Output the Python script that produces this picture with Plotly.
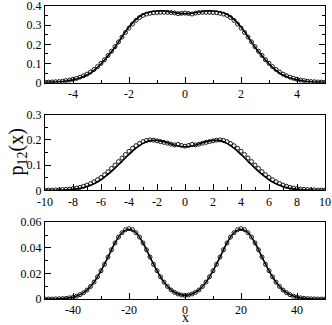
import plotly.graph_objects as go

# ---------------- data ----------------
# panel 1 (x in [-5, 5])
x1_line = [-5 + 0.25 * i for i in range(41)]
p1_line = [0.002, 0.003, 0.005, 0.009, 0.015, 0.025, 0.040, 0.065, 0.098, 0.140,
           0.185, 0.240, 0.290, 0.330, 0.357, 0.369, 0.374, 0.374, 0.369, 0.363,
           0.360,
           0.363, 0.369, 0.374, 0.374, 0.369, 0.357, 0.330, 0.290, 0.240, 0.185,
           0.140, 0.098, 0.065, 0.040, 0.025, 0.015, 0.009, 0.005, 0.003, 0.002]
x1_pts = [-5 + 0.125 * i for i in range(81)]
p1_pts = [0.003, 0.003, 0.004, 0.005, 0.006, 0.008, 0.011, 0.014, 0.018, 0.023,
          0.029, 0.036, 0.045, 0.056, 0.069, 0.084, 0.101, 0.120, 0.142, 0.164,
          0.188, 0.213, 0.238, 0.262, 0.285, 0.306, 0.325, 0.340, 0.351, 0.358,
          0.362, 0.365, 0.366, 0.367, 0.367, 0.367, 0.366, 0.364, 0.360, 0.362,
          0.363,
          0.361, 0.358, 0.363, 0.366, 0.367, 0.367, 0.367, 0.366, 0.365, 0.362,
          0.358, 0.351, 0.340, 0.325, 0.306, 0.285, 0.262, 0.238, 0.213, 0.188,
          0.164, 0.142, 0.120, 0.101, 0.084, 0.069, 0.056, 0.045, 0.036, 0.029,
          0.023, 0.018, 0.014, 0.011, 0.008, 0.006, 0.005, 0.004, 0.003, 0.003]

# panel 2 (x in [-10, 10])
x2_line = [-10 + 0.5 * i for i in range(41)]
p2_line = [0.000, 0.0005, 0.001, 0.002, 0.004, 0.008, 0.015, 0.026, 0.042, 0.063,
           0.088, 0.115, 0.142, 0.167, 0.186, 0.197, 0.198, 0.193, 0.184, 0.176,
           0.173,
           0.176, 0.184, 0.193, 0.198, 0.197, 0.186, 0.167, 0.142, 0.115, 0.088,
           0.063, 0.042, 0.026, 0.015, 0.008, 0.004, 0.002, 0.001, 0.0005, 0.000]
x2_pts = [-10 + 0.25 * i for i in range(81)]
p2_pts = [0.001, 0.001, 0.001, 0.002, 0.002, 0.003, 0.004, 0.005, 0.007, 0.009,
          0.012, 0.016, 0.021, 0.027, 0.034, 0.042, 0.051, 0.062, 0.074, 0.087,
          0.100, 0.114, 0.128, 0.142, 0.155, 0.167, 0.177, 0.186, 0.193, 0.198,
          0.200, 0.199, 0.196, 0.193, 0.190, 0.187, 0.183, 0.180, 0.182, 0.178,
          0.175,
          0.178, 0.182, 0.180, 0.183, 0.187, 0.190, 0.193, 0.196, 0.199, 0.200,
          0.198, 0.193, 0.186, 0.177, 0.167, 0.155, 0.142, 0.128, 0.114, 0.100,
          0.087, 0.074, 0.062, 0.051, 0.042, 0.034, 0.027, 0.021, 0.016, 0.012,
          0.009, 0.007, 0.005, 0.004, 0.003, 0.002, 0.002, 0.001, 0.001, 0.001]

# panel 3 (x in [-50, 50])
x3_line = [-50 + 2.5 * i for i in range(41)]
p3_line = [0.0000, 0.0000, 0.0002, 0.0005, 0.0014, 0.0034, 0.0070, 0.0132, 0.0221, 0.0328,
           0.0438, 0.0518, 0.0545, 0.0518, 0.0438, 0.0328, 0.0221, 0.0132, 0.0071, 0.0039,
           0.0028,
           0.0039, 0.0071, 0.0132, 0.0221, 0.0328, 0.0438, 0.0518, 0.0545, 0.0518, 0.0438,
           0.0328, 0.0221, 0.0132, 0.0070, 0.0034, 0.0014, 0.0005, 0.0002, 0.0000, 0.0000]
x3_pts = [-50 + 1.25 * i for i in range(81)]
p3_pts = [0.0000, 0.0000, 0.0000, 0.0001, 0.0002, 0.0003, 0.0005, 0.0009, 0.0014, 0.0022,
          0.0034, 0.0049, 0.0070, 0.0098, 0.0132, 0.0173, 0.0221, 0.0271, 0.0328, 0.0385,
          0.0438, 0.0484, 0.0518, 0.0542, 0.0550, 0.0542, 0.0518, 0.0484, 0.0438, 0.0385,
          0.0328, 0.0271, 0.0221, 0.0173, 0.0132, 0.0098, 0.0071, 0.0052, 0.0039, 0.0031,
          0.0028,
          0.0031, 0.0039, 0.0052, 0.0071, 0.0098, 0.0132, 0.0173, 0.0221, 0.0271, 0.0328,
          0.0385, 0.0438, 0.0484, 0.0518, 0.0542, 0.0550, 0.0542, 0.0518, 0.0484, 0.0438,
          0.0385, 0.0328, 0.0271, 0.0221, 0.0173, 0.0132, 0.0098, 0.0070, 0.0049, 0.0034,
          0.0022, 0.0014, 0.0009, 0.0005, 0.0003, 0.0002, 0.0001, 0.0000, 0.0000, 0.0000]

x1_ticks = [-4, -2, 0, 2, 4]
x1_labels = ["-4", "-2", "0", "2", "4"]
x2_ticks = [-10, -8, -6, -4, -2, 0, 2, 4, 6, 8, 10]
x2_labels = ["-10", "-8", "-6", "-4", "-2", "0", "2", "4", "6", "8", "10"]
x3_ticks = [-40, -20, 0, 20, 40]
x3_labels = ["-40", "-20", "0", "20", "40"]
y1_ticks = [0, 0.1, 0.2, 0.3, 0.4]
y1_labels = ["0", "0.1", "0.2", "0.3", "0.4"]
y2_ticks = [0, 0.1, 0.2, 0.3]
y2_labels = ["0", "0.1", "0.2", "0.3"]
y3_ticks = [0, 0.02, 0.04, 0.06]
y3_labels = ["0", "0.02", "0.04", "0.06"]

# ---------------- figure ----------------
FONT = "Liberation Serif"
TICKSIZE = 12
fig = go.Figure()

panels = [
    (x1_line, p1_line, x1_pts, p1_pts, "x", "y"),
    (x2_line, p2_line, x2_pts, p2_pts, "x2", "y2"),
    (x3_line, p3_line, x3_pts, p3_pts, "x3", "y3"),
]
for xl, yl, xp, yp, xa, ya in panels:
    fig.add_trace(go.Scatter(x=xl, y=yl, mode="lines", xaxis=xa, yaxis=ya,
                             line=dict(color="black", width=1.6, shape="spline"),
                             showlegend=False, hoverinfo="skip"))
    fig.add_trace(go.Scatter(x=xp, y=yp, mode="markers", xaxis=xa, yaxis=ya,
                             marker=dict(symbol="circle-open", size=4, color="black",
                                         line=dict(width=0.9, color="black")),
                             showlegend=False, hoverinfo="skip"))

H = 294.0
dom3 = [0, 77 / H]
dom2 = [109 / H, 185 / H]
dom1 = [217 / H, 1]


def xax(rng, tv, tt, dmin, anchor):
    return dict(range=rng, tickvals=tv, ticktext=tt, ticks="inside", ticklen=6,
                tickwidth=1, tickcolor="black", showline=True, linecolor="black",
                linewidth=1, mirror=True, showgrid=False, zeroline=False,
                anchor=anchor, domain=[0, 1], ticklabeloverflow="allow",
                automargin=False,
                tickfont=dict(family=FONT, size=TICKSIZE, color="black"),
                minor=dict(dtick=dmin, tick0=0, ticks="inside", ticklen=3,
                           tickcolor="black", showgrid=False))


def yax(rng, tv, tt, dmin, anchor, dom, mirror):
    return dict(range=rng, tickvals=tv, ticktext=tt, ticks="inside", ticklen=6,
                tickwidth=1, tickcolor="black", showline=True, linecolor="black",
                linewidth=1, mirror=mirror, showgrid=False, zeroline=False,
                anchor=anchor, domain=dom, ticklabeloverflow="allow",
                automargin=False,
                tickfont=dict(family=FONT, size=TICKSIZE, color="black"),
                minor=dict(dtick=dmin, tick0=0, ticks="inside", ticklen=3,
                           tickcolor="black", showgrid=False))


fig.update_layout(
    width=332, height=325,
    margin=dict(l=45, r=7, t=6, b=26),
    paper_bgcolor="white", plot_bgcolor="white",
    xaxis=xax([-5, 5], x1_ticks, x1_labels, 1, "y"),
    xaxis2=xax([-10, 10], x2_ticks, x2_labels, 1, "y2"),
    xaxis3=xax([-50, 50], x3_ticks, x3_labels, 10, "y3"),
    yaxis=yax([0, 0.4], y1_ticks, y1_labels, 0.05, "x", dom1, "ticks"),
    yaxis2=yax([0, 0.3], y2_ticks, y2_labels, 0.05, "x2", dom2, True),
    yaxis3=yax([0, 0.06], y3_ticks, y3_labels, 0.01, "x3", dom3, True),
    annotations=[
        dict(text="p<sub>12</sub>(x)", textangle=-90, x=-28 / 280.0, xref="paper",
             y=0.5, yref="paper", showarrow=False,
             font=dict(family=FONT, size=20, color="black"),
             xanchor="center", yanchor="middle"),
        dict(text="x", x=0.5, xref="paper", y=0, yref="paper", yshift=-18,
             showarrow=False, font=dict(family=FONT, size=14, color="black"),
             xanchor="center", yanchor="middle", borderpad=0),
    ],
)

fig.write_html("out.html",
               config={"displayModeBar": False},
               post_script="document.body.style.margin='0';"
                           "document.body.style.overflow='hidden';")
